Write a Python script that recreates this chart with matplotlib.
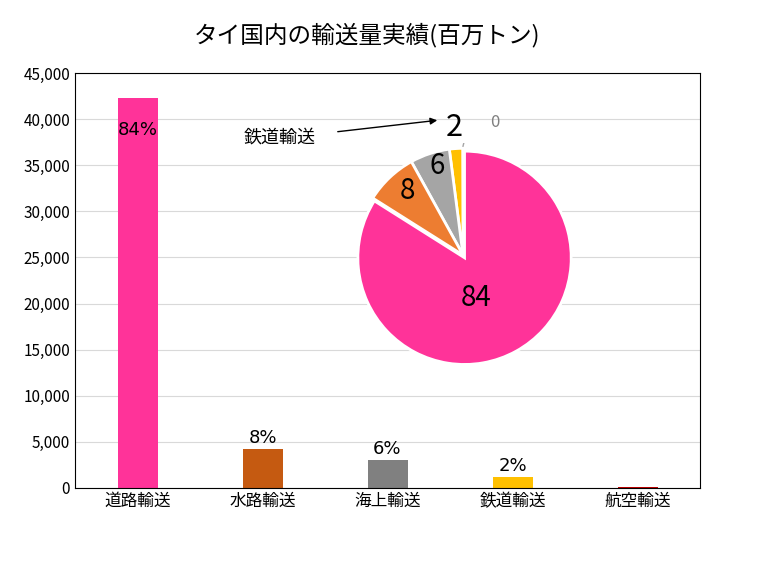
import matplotlib
matplotlib.use("Agg")
import matplotlib.pyplot as plt

plt.rcParams['font.family'] = ['Noto Sans CJK JP', 'DejaVu Sans']

categories = ['道路輸送', '水路輸送', '海上輸送', '鉄道輸送', '航空輸送']
values = [42300, 4200, 3000, 1200, 100]
bar_colors = ['#FF3399', '#C55A11', '#808080', '#FFC000', '#C00000']
bar_labels = ['84%', '8%', '6%', '2%', '']

pie_values = [0.05, 2, 6, 8, 84]
pie_labels = ['0', '2', '6', '8', '84']
pie_colors = ['#A5A5A5', '#FFC000', '#A5A5A5', '#ED7D31', '#FF3399']

fig = plt.figure(figsize=(7.65, 5.82), dpi=100)
ax = fig.add_axes([75/765, 1-488/582, 625/765, 415/582])
x = range(len(categories))
bars = ax.bar(x, values, width=0.32, color=bar_colors, zorder=2)
ax.set_xlim(-0.5, 4.5)
ax.set_ylim(0, 45000)
ax.set_yticks(range(0, 45001, 5000))
ax.set_yticklabels([f'{v:,}' for v in range(0, 45001, 5000)], fontsize=11)
ax.set_xticks(list(x))
ax.set_xticklabels(categories, fontsize=12)
ax.tick_params(length=0)
ax.grid(axis='y', color='#D9D9D9', zorder=0)
for s in ax.spines.values():
    s.set_color('#000000'); s.set_linewidth(0.8)
for i, (v, l) in enumerate(zip(values, bar_labels)):
    if not l:
        continue
    if i == 0:
        ax.text(i, v - 2500, l, ha='center', va='top', fontsize=13, family='DejaVu Sans')
    else:
        ax.text(i, v + 200, l, ha='center', va='bottom', fontsize=13, family='DejaVu Sans')

fig.text(0.48, 1-35/582, 'タイ国内の輸送量実績(百万トン)', ha='center', va='center', fontsize=17)

pax = fig.add_axes([(463-112)/765, 1-(255+112)/582, 224/765, 224/582])
wedges, _ = pax.pie(pie_values, colors=pie_colors, startangle=90, counterclock=True,
                    explode=[0, 0, 0, 0, 0.03],
                    wedgeprops=dict(edgecolor='white', linewidth=2))
pax.set_aspect('equal')
pax.text(0.12, -0.4, '84', ha='center', va='center', fontsize=20)
pax.text(-0.52, 0.6, '8', ha='center', va='center', fontsize=20)
pax.text(-0.24, 0.83, '6', ha='center', va='center', fontsize=20)
pax.text(-0.08, 1.2, '2', ha='center', va='center', fontsize=22)
pax.text(0.3, 1.24, '0', ha='center', va='center', fontsize=12, color='#808080')
pax.plot([0.0, 0.05, 0.2], [1.02, 1.22, 1.22], color='#A5A5A5', lw=1)
pax.set_xlim(-1.05, 1.05); pax.set_ylim(-1.05, 1.05)

fig.text(280/765, 1-138/582, '鉄道輸送', ha='center', va='center', fontsize=13)
fig.add_artist(matplotlib.patches.FancyArrowPatch((335/765, 1-132/582), (440/765, 1-120/582),
    transform=fig.transFigure, arrowstyle='-|>', mutation_scale=10, color='black', lw=1))

fig.savefig('out.png', dpi=100)
